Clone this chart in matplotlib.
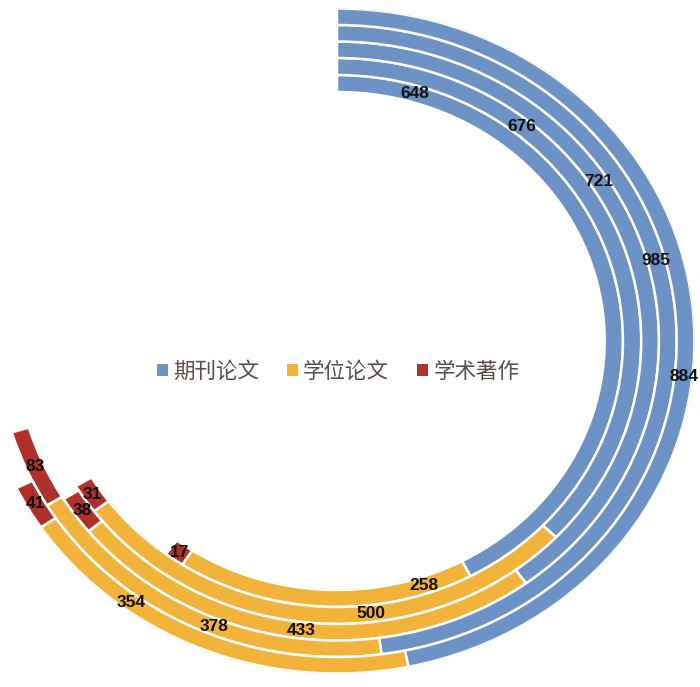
import numpy as np
import matplotlib
matplotlib.use("Agg")
import matplotlib.pyplot as plt
from matplotlib.patches import Patch

# ── Data (rings listed inner -> outer) ────────────────────────────────────────
series_names = ["期刊论文", "学位论文", "学术著作"]
journal = [648, 676, 721, 985, 884]
thesis = [258, 500, 433, 378, 354]
books = [17, 31, 38, 83, 41]
hidden = 610          # invisible remainder slice of every doughnut ring

# ── Layout ───────────────────────────────────────────────────────────────────
colors = ["#6d92c5", "#f2b33b", "#b0302c"]
ring_bottom = [249, 266, 283, 299.5, 316]      # inner radius of each ring
ring_height = [17, 17, 16.5, 16.5, 16.5]
journal_lbl_deg = [16.3, 38.7, 56.7, 74.8, 96.2]
thesis_lbl_deg = [161.6, 173.4, 186.6, 201.9, 216.3]

W, H = 700, 687
cx, cy = 337, 341          # centre (pixels, from top-left)
ry = ring_bottom[-1] + ring_height[-1]
rx = ry * 1.075            # picture is stretched sideways

fig = plt.figure(figsize=(W / 100, H / 100), dpi=100)
ax = fig.add_axes([(cx - rx) / W, (H - cy - ry) / H, 2 * rx / W, 2 * ry / H],
                  projection="polar")
ax.set_aspect("auto")
ax.set_theta_zero_location("N")
ax.set_theta_direction(-1)
ax.set_rlim(0, ry)
ax.set_thetalim(0, 2 * np.pi)
ax.axis("off")

series = [journal, thesis, books]
for i in range(len(journal)):
    total = journal[i] + thesis[i] + books[i] + hidden
    scale = 2 * np.pi / total
    start = 0.0
    r_mid = ring_bottom[i] + ring_height[i] / 2
    for k, vals in enumerate(series):
        width = vals[i] * scale
        ax.bar(start, ring_height[i], width=width, bottom=ring_bottom[i],
               align="edge", color=colors[k], edgecolor="white", linewidth=1.8)
        if k == 0:
            th = np.deg2rad(journal_lbl_deg[i])
        elif k == 1:
            th = np.deg2rad(thesis_lbl_deg[i])
        else:
            th = start + width / 2
        ax.text(th, r_mid, str(vals[i]), ha="center", va="center",
                fontsize=12.5, fontweight="bold", family="Liberation Sans",
                color="#111111")
        start += width

handles = [Patch(facecolor=c, edgecolor="none") for c in colors]
fig.legend(handles, series_names, loc="center", ncol=3,
           bbox_to_anchor=(338 / W, 1 - 372 / H), frameon=False,
           prop={"family": ["Noto Sans CJK SC", "DejaVu Sans"], "size": 15.5},
           labelcolor="#5a4d48", handlelength=0.5, handleheight=0.5,
           handletextpad=0.25, columnspacing=1.3)

fig.savefig("out.png", dpi=100)
